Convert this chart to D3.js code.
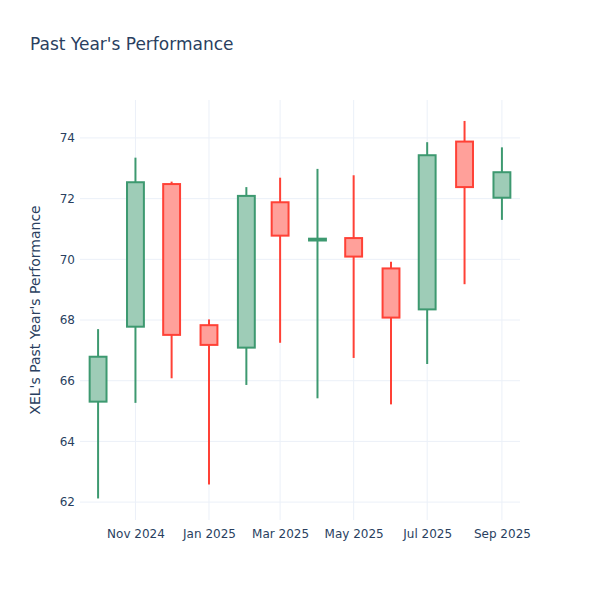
<!DOCTYPE html>
<html>
<head>
<meta charset="utf-8">
<script src="https://cdn.jsdelivr.net/npm/d3@7"></script>
<style>
  body { margin: 0; background: #fff; }
  svg { font-family: "DejaVu Sans", verdana, arial, sans-serif; }
</style>
</head>
<body>
<svg id="canvas"></svg>
<script>
/** Main values */
let months = ['2024-10-01', '2024-11-01', '2024-12-01', '2025-01-01', '2025-02-01', '2025-03-01',
              '2025-04-01', '2025-05-01', '2025-06-01', '2025-07-01', '2025-08-01', '2025-09-01'];
let opens  = [65.31, 67.78, 72.48, 67.83, 67.09, 71.88, 70.62, 70.70, 69.70, 68.35, 73.88, 72.03];
let highs  = [67.70, 73.35, 72.56, 68.02, 72.38, 72.69, 72.98, 72.77, 69.92, 73.86, 74.56, 73.69];
let lows   = [62.12, 65.27, 66.08, 62.58, 65.86, 67.25, 65.42, 66.75, 65.22, 66.55, 69.18, 71.30];
let closes = [66.79, 72.54, 67.51, 67.18, 72.09, 70.78, 70.68, 70.09, 68.08, 73.43, 72.38, 72.87];

let yTicks = [62, 64, 66, 68, 70, 72, 74];
let xTicks = ['2024-11-01', '2025-01-01', '2025-03-01', '2025-05-01', '2025-07-01', '2025-09-01'];

let width = 600;
let height = 600;
let margin = { top: 100, right: 80, bottom: 80, left: 80 };

let parse = d3.timeParse('%Y-%m-%d');
let values = months.map((m, i) => ({
    date: parse(m), open: opens[i], high: highs[i], low: lows[i], close: closes[i]
}));

let canvas = d3.select('#canvas').attr('width', width).attr('height', height);

/** Scales */
let xScale = d3.scaleTime()
    .domain([parse('2024-09-16'), parse('2025-09-16')])
    .range([margin.left, width - margin.right]);

let yScale = d3.scaleLinear()
    .domain([61.41, 75.25])
    .range([height - margin.bottom, margin.top]);

let textColor = '#2a3f5f';
let gridColor = '#EBF0F8';

/** Grid */
canvas.append('g')
    .selectAll('line')
    .data(yTicks)
    .enter()
    .append('line')
    .attr('x1', margin.left)
    .attr('x2', width - margin.right)
    .attr('y1', d => yScale(d))
    .attr('y2', d => yScale(d))
    .attr('stroke', gridColor)
    .attr('stroke-width', 1);

canvas.append('g')
    .selectAll('line')
    .data(xTicks.map(parse))
    .enter()
    .append('line')
    .attr('x1', d => xScale(d))
    .attr('x2', d => xScale(d))
    .attr('y1', margin.top)
    .attr('y2', height - margin.bottom)
    .attr('stroke', gridColor)
    .attr('stroke-width', 1);

/** Axes */
let xAxis = d3.axisBottom(xScale)
    .tickValues(xTicks.map(parse))
    .tickFormat(d3.timeFormat('%b %Y'))
    .tickSize(0)
    .tickPadding(9);

let yAxis = d3.axisLeft(yScale)
    .tickValues(yTicks)
    .tickSize(0)
    .tickPadding(4);

let gx = canvas.append('g')
    .attr('transform', `translate(0, ${height - margin.bottom})`)
    .call(xAxis);

let gy = canvas.append('g')
    .attr('transform', `translate(${margin.left - 1}, 0)`)
    .call(yAxis);

[gx, gy].forEach(g => {
    g.select('.domain').remove();
    g.selectAll('text')
        .attr('fill', textColor)
        .style('font-size', '12px')
        .style('font-family', '"DejaVu Sans", verdana, arial, sans-serif');
});

/** Candles */
let incColor = '#3D9970';
let decColor = '#FF4136';
let colorOf = d => d.close >= d.open ? incColor : decColor;
let boxWidth = d => xScale(d3.timeDay.offset(d.date, 7)) - xScale(d3.timeDay.offset(d.date, -7));

let candles = canvas.append('g')
    .selectAll('g')
    .data(values)
    .enter()
    .append('g');

candles.append('line')
    .attr('x1', d => xScale(d.date))
    .attr('x2', d => xScale(d.date))
    .attr('y1', d => yScale(d.high))
    .attr('y2', d => yScale(d.low))
    .attr('stroke', colorOf)
    .attr('stroke-width', 2);

candles.append('rect')
    .attr('x', d => xScale(d.date) - boxWidth(d) / 2)
    .attr('width', boxWidth)
    .attr('y', d => yScale(Math.max(d.open, d.close)))
    .attr('height', d => Math.abs(yScale(d.open) - yScale(d.close)))
    .attr('fill', '#fff')
    .attr('stroke', 'none');

candles.append('rect')
    .attr('x', d => xScale(d.date) - boxWidth(d) / 2)
    .attr('width', boxWidth)
    .attr('y', d => yScale(Math.max(d.open, d.close)))
    .attr('height', d => Math.abs(yScale(d.open) - yScale(d.close)))
    .attr('fill', d => colorOf(d))
    .attr('fill-opacity', 0.5)
    .attr('stroke', colorOf)
    .attr('stroke-width', 2);

/** Titles */
canvas.append('text')
    .attr('x', 30)
    .attr('y', 50)
    .attr('fill', textColor)
    .style('font-size', '17px')
    .text("Past Year's Performance");

canvas.append('text')
    .attr('transform', `translate(40, ${(margin.top + height - margin.bottom) / 2}) rotate(-90)`)
    .attr('text-anchor', 'middle')
    .attr('fill', textColor)
    .style('font-size', '14px')
    .text("XEL's Past Year's Performance");
</script>
</body>
</html>
